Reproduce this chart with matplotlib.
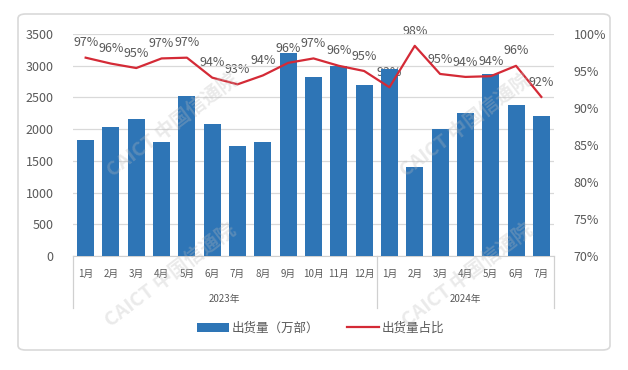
import numpy as np
import matplotlib
matplotlib.use('Agg')
import matplotlib.pyplot as plt
from matplotlib.patches import FancyBboxPatch, Patch
from matplotlib.lines import Line2D
import matplotlib.transforms as mtransforms

plt.rcParams['font.family'] = ['Noto Sans CJK SC', 'DejaVu Sans']

# data
months = ['1月', '2月', '3月', '4月', '5月', '6月', '7月', '8月', '9月', '10月', '11月', '12月',
          '1月', '2月', '3月', '4月', '5月', '6月', '7月']
years = ['2023年', '2024年']
year_counts = [12, 7]
shipments = [1830, 2040, 2160, 1800, 2520, 2080, 1730, 1790, 3200, 2820, 2990, 2690,
             2950, 1400, 2010, 2260, 2870, 2380, 2210]
share = [96.8, 96.0, 95.4, 96.7, 96.8, 94.1, 93.2, 94.4, 96.1, 96.7, 95.7, 95.0,
         92.8, 98.4, 94.6, 94.2, 94.3, 95.7, 91.5]
share_labels = ['97%', '96%', '95%', '97%', '97%', '94%', '93%', '94%', '96%', '97%', '96%', '95%',
                '93%', '98%', '95%', '94%', '94%', '96%', '92%']
left_ticks = [0, 500, 1000, 1500, 2000, 2500, 3000, 3500]
right_ticks = [70, 75, 80, 85, 90, 95, 100]

blue = '#2E75B6'
red = '#D42A36'
gray = '#595959'
W, H = 628, 370

fig = plt.figure(figsize=(W / 100, H / 100), dpi=100)

# outer rounded frame
frame = FancyBboxPatch((18 / W, 1 - 350 / H), (610 - 18) / W, (350 - 14) / H,
                       boxstyle='round,pad=0,rounding_size=0.012',
                       transform=fig.transFigure, facecolor='white',
                       edgecolor='#D9D9D9', linewidth=1.2, zorder=-5)
fig.patches.append(frame)

ax = fig.add_axes([73 / W, 1 - 256 / H, (554 - 73) / W, (256 - 34) / H])
ax.set_facecolor('none')
x = np.arange(len(months))

ax.bar(x, shipments, width=0.67, color=blue, zorder=3)
ax.set_xlim(-0.5, len(months) - 0.5)
ax.set_ylim(0, 3500)
ax.set_yticks(left_ticks)
ax.tick_params(axis='y', length=0, labelsize=9, labelcolor=gray, pad=14)
ax.set_xticks([])
ax.grid(axis='y', color='#D9D9D9', linewidth=0.9, zorder=0)
for s in ['top', 'left', 'right']:
    ax.spines[s].set_visible(False)
ax.spines['bottom'].set_color('#D0D0D0')

ax2 = ax.twinx()
ax2.plot(x, share, color=red, linewidth=1.6, zorder=4)
ax2.set_ylim(70, 100)
ax2.set_yticks(right_ticks)
ax2.set_yticklabels([f'{t}%' for t in right_ticks])
ax2.tick_params(axis='y', length=0, labelsize=9, labelcolor=gray, pad=14)
for s in ['top', 'left', 'right', 'bottom']:
    ax2.spines[s].set_visible(False)

# percentage labels sit behind the bars
for xi, yi, lab in zip(x, share, share_labels):
    ax.annotate(lab, (xi, yi), xycoords=ax2.transData, xytext=(0, 6),
                textcoords='offset points', ha='center', va='bottom',
                fontsize=9, color=gray, zorder=1)

# two-level category axis
trans = mtransforms.blended_transform_factory(ax.transData, ax.transAxes)
sep_bottom = -(308 - 256) / (256 - 34)
for xi, m in zip(x, months):
    ax.text(xi, -(274 - 256) / (256 - 34), m, transform=trans, ha='center', va='center',
            fontsize=7, color=gray)
edges = np.concatenate([[0], np.cumsum(year_counts)]) - 0.5
for e in edges:
    ax.plot([e, e], [0, sep_bottom], transform=trans, color='#D0D0D0',
            linewidth=0.9, clip_on=False)
for yr, a, b in zip(years, edges[:-1], edges[1:]):
    ax.text((a + b) / 2, -(299 - 256) / (256 - 34), yr, transform=trans,
            ha='center', va='center', fontsize=7, color=gray)

# legend
handles = [Patch(facecolor=blue, edgecolor='none'),
           Line2D([0], [0], color=red, linewidth=1.6)]
fig.legend(handles, ['出货量（万部）', '出货量占比'], loc='center',
           bbox_to_anchor=(0.51, 1 - 328 / H), ncol=2, frameon=False,
           fontsize=9, labelcolor=gray, handlelength=2.6, handleheight=0.7,
           columnspacing=2.2, handletextpad=0.2)

# faint watermarks
for cx, cy in [(172, 125), (465, 125), (170, 275), (467, 275)]:
    fig.text(cx / W, 1 - cy / H, 'CAICT 中国信通院', rotation=37, ha='center',
             va='center', fontsize=14, fontweight='bold', color='#BBBBBB',
             alpha=0.3, zorder=10)

fig.savefig('out.png', dpi=100)
